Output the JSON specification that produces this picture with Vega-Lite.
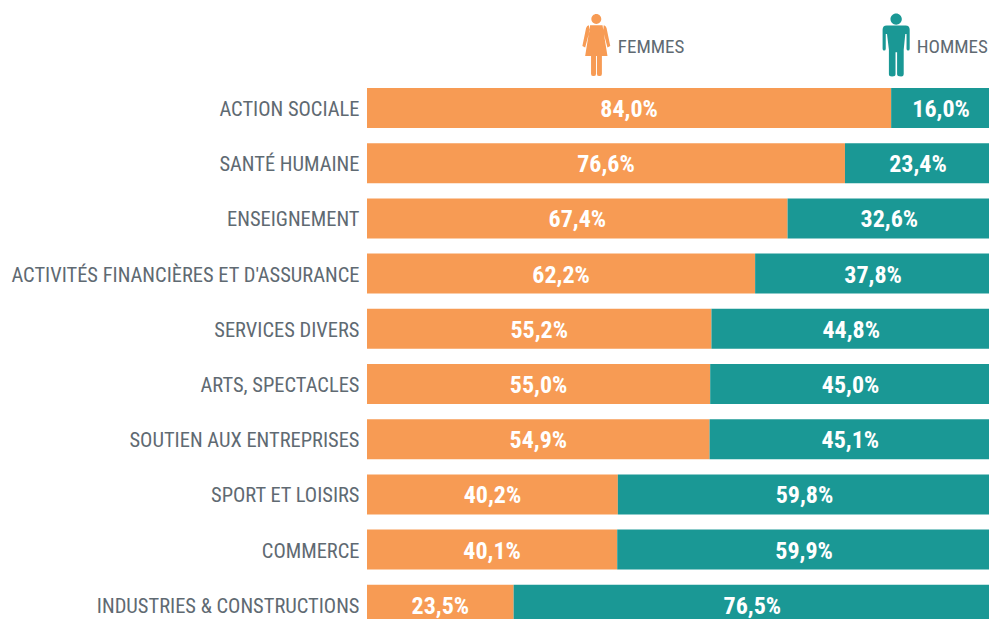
{
"$schema":"https://vega.github.io/schema/vega-lite/v6.json",
"width":624,"height":607.2,
"autosize":"none",
"padding":{"left":367,"top":25.2,"right":0,"bottom":0},
"background":"white",
"config":{"view":{"stroke":null}},
"datasets":{
"rows":[
{"secteur":"ACTION SOCIALE","genre":"Femmes","part":84.0,"label":"84,0%"},
{"secteur":"ACTION SOCIALE","genre":"Hommes","part":16.0,"label":"16,0%"},
{"secteur":"SANTÉ HUMAINE","genre":"Femmes","part":76.6,"label":"76,6%"},
{"secteur":"SANTÉ HUMAINE","genre":"Hommes","part":23.4,"label":"23,4%"},
{"secteur":"ENSEIGNEMENT","genre":"Femmes","part":67.4,"label":"67,4%"},
{"secteur":"ENSEIGNEMENT","genre":"Hommes","part":32.6,"label":"32,6%"},
{"secteur":"ACTIVITÉS FINANCIÈRES ET D'ASSURANCE","genre":"Femmes","part":62.2,"label":"62,2%"},
{"secteur":"ACTIVITÉS FINANCIÈRES ET D'ASSURANCE","genre":"Hommes","part":37.8,"label":"37,8%"},
{"secteur":"SERVICES DIVERS","genre":"Femmes","part":55.2,"label":"55,2%"},
{"secteur":"SERVICES DIVERS","genre":"Hommes","part":44.8,"label":"44,8%"},
{"secteur":"ARTS, SPECTACLES","genre":"Femmes","part":55.0,"label":"55,0%"},
{"secteur":"ARTS, SPECTACLES","genre":"Hommes","part":45.0,"label":"45,0%"},
{"secteur":"SOUTIEN AUX ENTREPRISES","genre":"Femmes","part":54.9,"label":"54,9%"},
{"secteur":"SOUTIEN AUX ENTREPRISES","genre":"Hommes","part":45.1,"label":"45,1%"},
{"secteur":"SPORT ET LOISIRS","genre":"Femmes","part":40.2,"label":"40,2%"},
{"secteur":"SPORT ET LOISIRS","genre":"Hommes","part":59.8,"label":"59,8%"},
{"secteur":"COMMERCE","genre":"Femmes","part":40.1,"label":"40,1%"},
{"secteur":"COMMERCE","genre":"Hommes","part":59.9,"label":"59,9%"},
{"secteur":"INDUSTRIES & CONSTRUCTIONS","genre":"Femmes","part":23.5,"label":"23,5%"},
{"secteur":"INDUSTRIES & CONSTRUCTIONS","genre":"Hommes","part":76.5,"label":"76,5%"}
],
"entete":[
{"secteur":" ","genre":"Femmes","icone":36.75,"titre":40.2,"label":"FEMMES"},
{"secteur":" ","genre":"Hommes","icone":84.8,"titre":88.1,"label":"HOMMES"}
]
},
"encoding":{
"y":{"field":"secteur","type":"nominal","title":null,
"scale":{"domain":[" ","ACTION SOCIALE","SANTÉ HUMAINE","ENSEIGNEMENT","ACTIVITÉS FINANCIÈRES ET D'ASSURANCE","SERVICES DIVERS","ARTS, SPECTACLES","SOUTIEN AUX ENTREPRISES","SPORT ET LOISIRS","COMMERCE","INDUSTRIES & CONSTRUCTIONS"],"paddingInner":0.275,"paddingOuter":0.1375},
"axis":{"domain":false,"ticks":false,"grid":false,"labelPadding":8,"labelOffset":2,"labelLimit":400,"labelFont":"Roboto Condensed","labelFontSize":20.5,"labelColor":"#5F6A72"}}
},
"layer":[
{"data":{"name":"rows"},
"transform":[{"stack":"part","groupby":["secteur"],"sort":[{"field":"genre","order":"ascending"}],"as":["p0","p1"]}],
"mark":{"type":"bar"},
"encoding":{
"x":{"field":"p0","type":"quantitative","title":null,"scale":{"domain":[0,100],"nice":false},"axis":null},
"x2":{"field":"p1"},
"color":{"field":"genre","type":"nominal","legend":null,"scale":{"domain":["Femmes","Hommes"],"range":["#F79B54","#1A9895"]}}
}},
{"data":{"name":"rows"},
"transform":[{"stack":"part","groupby":["secteur"],"sort":[{"field":"genre","order":"ascending"}],"as":["p0","p1"]},{"calculate":"(datum.p0+datum.p1)/2","as":"milieu"}],
"mark":{"type":"text","font":"Roboto Condensed","fontWeight":"bold","fontSize":24,"color":"white","baseline":"middle","align":"center","dy":2},
"encoding":{
"x":{"field":"milieu","type":"quantitative"},
"text":{"field":"label"}
}},
{"data":{"name":"entete"},
"mark":{"type":"text","font":"Roboto Condensed","fontSize":19,"color":"#5F6A72","baseline":"middle","align":"left","dy":-6},
"encoding":{
"x":{"field":"titre","type":"quantitative"},
"text":{"field":"label"}
}},
{"data":{"name":"entete"},
"transform":[{"filter":"datum.genre==='Femmes'"}],
"mark":{"type":"point","filled":true,"opacity":1,"strokeWidth":0,"size":3844,"color":"#F79B54",
"shape":"M-0.16 -1.09A0.16 0.16 0 1 1 0.16 -1.09A0.16 0.16 0 1 1 -0.16 -1.09ZM-0.2 -0.89L0.2 -0.89L0.36 0.1L-0.36 0.1ZM0.24 -0.89Q0.3 -0.89 0.33 -0.8L0.45 -0.22L0.36 -0.17L0.22 -0.7ZM-0.24 -0.89Q-0.3 -0.89 -0.33 -0.8L-0.45 -0.22L-0.36 -0.17L-0.22 -0.7ZM-0.17 0.1L-0.01 0.1L-0.01 0.68Q-0.01 0.75 -0.09 0.75Q-0.17 0.75 -0.17 0.68ZM0.02 0.1L0.18 0.1L0.18 0.68Q0.18 0.75 0.1 0.75Q0.02 0.75 0.02 0.68Z"},
"encoding":{"x":{"field":"icone","type":"quantitative"}}},
{"data":{"name":"entete"},
"transform":[{"filter":"datum.genre==='Hommes'"}],
"mark":{"type":"point","filled":true,"opacity":1,"strokeWidth":0,"size":3969,"color":"#1A9895",
"shape":"M-0.18 -1.07A0.18 0.18 0 1 1 0.18 -1.07A0.18 0.18 0 1 1 -0.18 -1.07ZM-0.27 -0.87L0.27 -0.87L0.3 -0.87Q0.43 -0.87 0.43 -0.73L0.43 -0.13Q0.43 -0.07 0.38 -0.07Q0.33 -0.07 0.33 -0.13L0.33 -0.6L0.29 -0.6L0.24 -0.1L0.24 0.68Q0.24 0.75 0.16 0.75Q0.03 0.75 0.03 0.68L0.03 -0.02L-0.02 -0.02L-0.02 0.68Q-0.02 0.75 -0.13 0.75Q-0.23 0.75 -0.23 0.68L-0.23 -0.1L-0.29 -0.6L-0.33 -0.6L-0.33 -0.13Q-0.33 -0.07 -0.38 -0.07Q-0.43 -0.07 -0.43 -0.13L-0.43 -0.73Q-0.43 -0.87 -0.3 -0.87Z"},
"encoding":{"x":{"field":"icone","type":"quantitative"}}}
]
}
